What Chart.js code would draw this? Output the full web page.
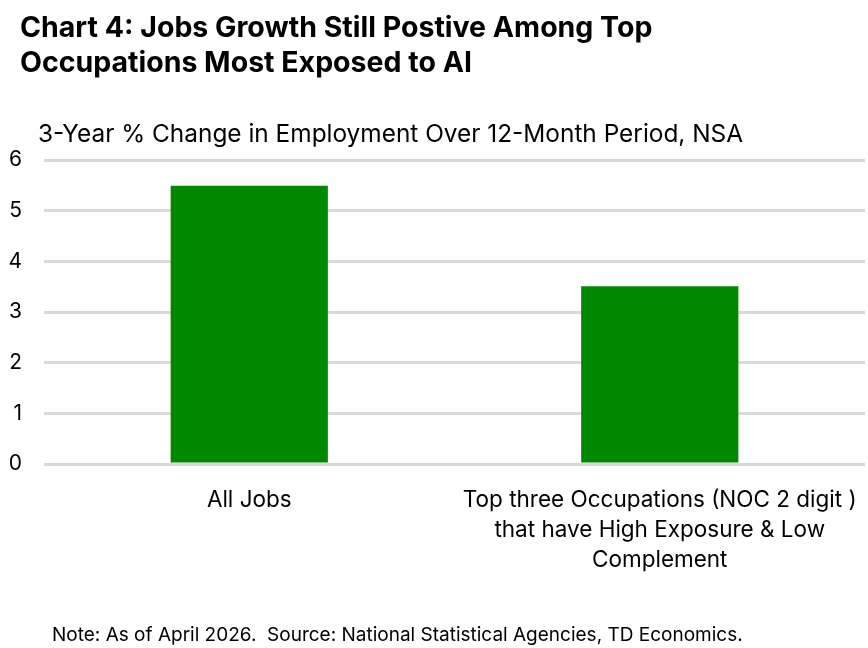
<!DOCTYPE html>
<html>
<head>
<meta charset="utf-8">
<script src="https://cdn.jsdelivr.net/npm/chart.js@4"></script>
<style>
  body { margin: 0; background: #fff; }
  #wrap { position: relative; width: 868px; height: 648px; font-family: Inter, "Noto Sans", sans-serif; color: #000; }
  #title { position: absolute; left: 20px; top: 9px; font-size: 28.5px; font-weight: 700; line-height: 35px; white-space: nowrap; }
  #sub { position: absolute; left: 38px; top: 118px; font-size: 24.4px; line-height: 30px; white-space: nowrap; }
  #note { position: absolute; left: 52px; top: 623px; font-size: 19px; line-height: 24px; white-space: nowrap; }
  canvas { position: absolute; left: 0; top: 0; }
</style>
</head>
<body>
<div id="wrap">
  <canvas id="chart" width="868" height="648"></canvas>
  <div id="title">Chart 4: Jobs Growth Still Postive Among Top<br>Occupations Most Exposed to AI</div>
  <div id="sub">3-Year % Change in Employment Over 12-Month Period, NSA</div>
  <div id="note">Note: As of April 2026.&nbsp; Source: National Statistical Agencies, TD Economics.</div>
</div>
<script>
var categories = [
    'All Jobs',
    ['Top three Occupations (NOC 2 digit )', 'that have High Exposure & Low', 'Complement']
];
var values = [5.49, 3.51];
var yTicks = [0, 1, 2, 3, 4, 5, 6];

Chart.defaults.font.family = 'Inter, "Noto Sans", sans-serif';
Chart.defaults.color = '#000';

var ctx = document.getElementById('chart').getContext('2d');
window.myChart = new Chart(ctx, {
    type: 'bar',
    data: {
        labels: categories,
        datasets: [{
            data: values,
            backgroundColor: '#008800',
            categoryPercentage: 1,
            barPercentage: 0.383
        }]
    },
    options: {
        responsive: false,
        animation: false,
        layout: { padding: { top: 160, right: 3, left: 0, bottom: 0 } },
        plugins: {
            legend: { display: false },
            tooltip: { enabled: false }
        },
        scales: {
            x: {
                grid: { display: false },
                border: { display: false },
                ticks: { font: { size: 22.5, lineHeight: 1.33 }, padding: 13, maxRotation: 0, autoSkip: false },
                afterFit: function(axis) {
                    axis.height = 184;
                    axis.paddingLeft = 0;
                    axis.paddingRight = 0;
                }
            },
            y: {
                min: yTicks[0],
                max: yTicks[yTicks.length - 1],
                grid: { color: '#d9d9d9', lineWidth: 3, drawTicks: false },
                border: { display: false },
                ticks: { stepSize: 1, font: { size: 21 }, padding: 22 },
                afterFit: function(axis) { axis.width = 44; }
            }
        }
    }
});
</script>
</body>
</html>
